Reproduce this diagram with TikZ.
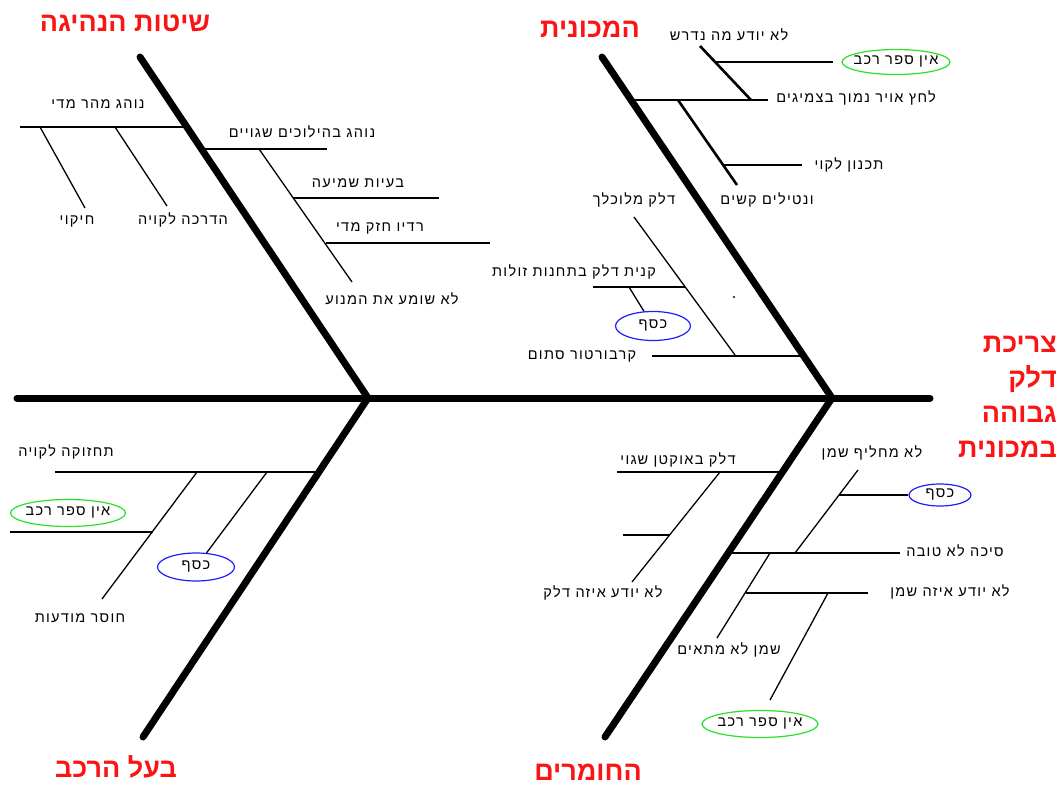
\documentclass[tikz,border=0pt]{standalone}
\usepackage{fontspec}
\usetikzlibrary{shapes.geometric}
\TeXXeTstate=1
\newfontfamily\hebfont[Script=Hebrew]{Liberation Sans}
\newfontfamily\hebwide[Script=Hebrew,LetterSpace=9]{Liberation Sans}
\newcommand\rtl[1]{\beginR #1\endR}
\definecolor{ovalgreen}{RGB}{40,225,40}
\definecolor{ovalblue}{RGB}{30,30,250}
\definecolor{headred}{RGB}{250,20,20}

\begin{document}
\begin{tikzpicture}[x=1pt,y=-1pt,
  bone/.style={line width=7pt,line cap=round},
  branch/.style={line width=2.6pt},
  minor/.style={line width=2pt},
  twig/.style={line width=1.3pt},
  lbl/.style={font=\hebwide\fontsize{14.5}{16}\selectfont,inner sep=0pt},
  head/.style={font=\hebfont\bfseries\fontsize{27}{35}\selectfont,text=headred,inner sep=0pt},
  oval/.style={ellipse,draw,line width=1.2pt,inner sep=-6pt,
    font=\hebwide\fontsize{14.5}{16}\selectfont},
  goval/.style={oval,draw=ovalgreen},
  boval/.style={oval,draw=ovalblue}]

\useasboundingbox (0,0) rectangle (1063,787);

% ---- spine and main bones ----
\coordinate (s0) at (17,398);
\coordinate (s1) at (930,398);
\coordinate (jl) at (368,398);
\coordinate (jr) at (832,398);
\coordinate (b1) at (140,57);
\coordinate (b2) at (143,737);
\coordinate (b3) at (602,57);
\coordinate (b4) at (605,737);
\draw[bone] (s0) -- (s1);
\draw[bone] (b1) -- (jl) -- (b2);
\draw[bone] (b3) -- (jr) -- (b4);

% ---- headings ----
\node[head] (hDrive) at (125,23) {\rtl{שיטות הנהיגה}};
\node[head] (hCar) at (590,29) {\rtl{המכונית}};
\node[head] (hOwner) at (116,767) {\rtl{בעל הרכב}};
\node[head] (hMat) at (588,772) {\rtl{החומרים}};
\node[head,align=right,anchor=east] (hEffect) at (1057,397)
  {\rtl{צריכת}\\\rtl{דלק}\\\rtl{גבוהה}\\\rtl{במכונית}};

% ---- driving habits ----
\coordinate (a1) at (20,127);   \coordinate (a2) at (187,127);
\coordinate (a3) at (40,127);   \coordinate (a4) at (85,208);
\coordinate (a5) at (115,127);  \coordinate (a6) at (167,206);
\coordinate (a7) at (202,149);  \coordinate (a8) at (327,149);
\coordinate (a9) at (259,149);  \coordinate (a10) at (352,282);
\coordinate (a11) at (293,198); \coordinate (a12) at (439,198);
\coordinate (a13) at (326,243); \coordinate (a14) at (490,243);
\draw[branch] (a1) -- (a2);
\draw[twig] (a3) -- (a4);
\draw[twig] (a5) -- (a6);
\draw[minor] (a7) -- (a8);
\draw[twig] (a9) -- (a10);
\draw[minor] (a11) -- (a12);
\draw[minor] (a13) -- (a14);
\node[lbl] (tFast) at (98,104) {\rtl{נוהג מהר מדי}};
\node[lbl] (tCopy) at (77,222) {\rtl{חיקוי}};
\node[lbl] (tTrain) at (183,220) {\rtl{הדרכה לקויה}};
\node[lbl] (tGear) at (302,132) {\rtl{נוהג בהילוכים שגויים}};
\node[lbl] (tHear) at (358,183) {\rtl{בעיות שמיעה}};
\node[lbl] (tRadio) at (380,228) {\rtl{רדיו חזק מדי}};
\node[lbl] (tEngine) at (392,299) {\rtl{לא שומע את המנוע}};

% ---- the car ----
\coordinate (c1) at (631,100);  \coordinate (c2) at (768,100);
\coordinate (c3) at (700,46);   \coordinate (c4) at (751,100);
\coordinate (c5) at (714,62);   \coordinate (c6) at (833,62);
\coordinate (c7) at (678,100);  \coordinate (c8) at (737,185);
\coordinate (c9) at (723,165);  \coordinate (c10) at (802,165);
\coordinate (c11) at (634,217); \coordinate (c12) at (735,355);
\coordinate (c13) at (593,287); \coordinate (c14) at (685,287);
\coordinate (c15) at (629,287);
\coordinate (c16) at (652,356); \coordinate (c17) at (804,356);
\draw[branch] (c1) -- (c2);
\draw[branch] (c3) -- (c4);
\draw[branch] (c5) -- (c6);
\draw[branch] (c7) -- (c8);
\draw[branch] (c9) -- (c10);
\draw[twig] (c11) -- (c12);
\draw[minor] (c13) -- (c14);
\draw[minor] (c16) -- (c17);
\node[goval,minimum width=108pt,minimum height=25pt] (oBook1) at (896,62) {\rtl{אין ספר רכב}};
\node[boval,minimum width=75pt,minimum height=29pt] (oMoney1) at (653,326) {\rtl{כסף}};
\draw[twig] (c15) -- (oMoney1);
\fill (734,297) circle (1.1pt);
\node[lbl] (tKnow) at (729,35) {\rtl{לא יודע מה נדרש}};
\node[lbl] (tTyre) at (856,98) {\rtl{לחץ אויר נמוך בצמיגים}};
\node[lbl] (tPlan) at (849,165) {\rtl{תכנון לקוי}};
\node[lbl] (tValve) at (767,200) {\rtl{ונטילים קשים}};
\node[lbl] (tDirty) at (634,200) {\rtl{דלק מלוכלך}};
\node[lbl] (tCheap) at (574,272) {\rtl{קנית דלק בתחנות זולות}};
\node[lbl] (tCarb) at (582,356) {\rtl{קרבורטור סתום}};

% ---- the owner ----
\coordinate (o1) at (55,472);   \coordinate (o2) at (319,472);
\coordinate (o3) at (197,472);  \coordinate (o4) at (102,599);
\coordinate (o5) at (10,532);   \coordinate (o6) at (153,532);
\coordinate (o7) at (267,472);
\draw[branch] (o1) -- (o2);
\draw[twig] (o3) -- (o4);
\draw[minor] (o5) -- (o6);
\node[goval,minimum width=115pt,minimum height=27pt] (oBook2) at (68,513) {\rtl{אין ספר רכב}};
\node[boval,minimum width=77pt,minimum height=28pt] (oMoney2) at (196,567) {\rtl{כסף}};
\draw[twig] (o7) -- (oMoney2);
\node[lbl] (tMaint) at (66,452) {\rtl{תחזוקה לקויה}};
\node[lbl] (tAware) at (80,618) {\rtl{חוסר מודעות}};

% ---- materials ----
\coordinate (m1) at (617,472);  \coordinate (m2) at (782,472);
\coordinate (m3) at (720,472);  \coordinate (m4) at (632,582);
\coordinate (m5) at (623,535);  \coordinate (m6) at (670,535);
\coordinate (m7) at (858,470);  \coordinate (m8) at (795,553);
\coordinate (m9) at (839,495);
\coordinate (m10) at (728,553); \coordinate (m11) at (900,553);
\coordinate (m12) at (770,553); \coordinate (m13) at (717,638);
\coordinate (m14) at (746,593); \coordinate (m15) at (868,593);
\coordinate (m16) at (828,593); \coordinate (m17) at (770,700);
\draw[branch] (m1) -- (m2);
\draw[twig] (m3) -- (m4);
\draw[minor] (m5) -- (m6);
\draw[twig] (m7) -- (m8);
\draw[branch] (m10) -- (m11);
\draw[twig] (m12) -- (m13);
\draw[minor] (m14) -- (m15);
\draw[twig] (m16) -- (m17);
\node[boval,minimum width=62pt,minimum height=22pt] (oMoney3) at (940,495) {\rtl{כסף}};
\draw[minor] (m9) -- (oMoney3);
\node[goval,minimum width=116pt,minimum height=27pt] (oBook3) at (760,724) {\rtl{אין ספר רכב}};
\node[lbl] (tOctane) at (678,460) {\rtl{דלק באוקטן שגוי}};
\node[lbl] (tWhichFuel) at (603,593) {\rtl{לא יודע איזה דלק}};
\node[lbl] (tOil) at (872,453) {\rtl{לא מחליף שמן}};
\node[lbl] (tLube) at (955,551) {\rtl{סיכה לא טובה}};
\node[lbl] (tWhichOil) at (950,592) {\rtl{לא יודע איזה שמן}};
\node[lbl] (tWrongOil) at (729,650) {\rtl{שמן לא מתאים}};

\end{tikzpicture}
\end{document}
